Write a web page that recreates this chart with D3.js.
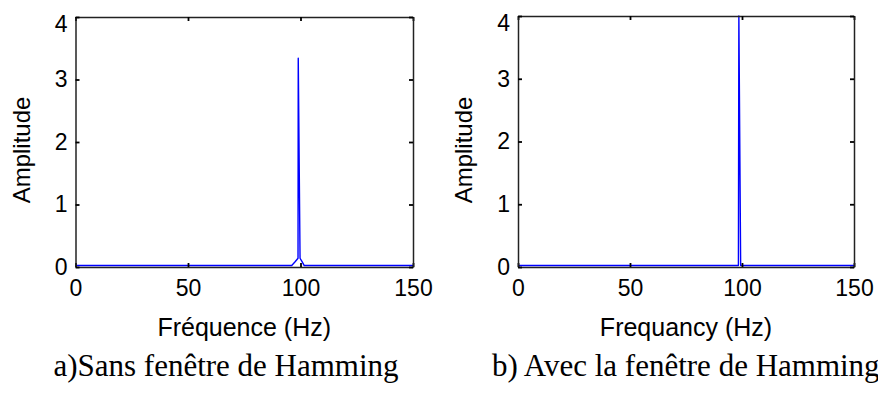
<!DOCTYPE html>
<html>
<head>
<meta charset="utf-8">
<script src="https://cdn.jsdelivr.net/npm/d3@7"></script>
<style>
  body { margin: 0; background: #fff; }
  svg { display: block; }
</style>
</head>
<body>
<svg id="chart" width="878" height="401"></svg>
<script>
// Tick values shared by both spectra
const xTicks = [0, 50, 100, 150];
const yTicks = [0, 1, 2, 3, 4];

// a) spectrum without window: frequency (Hz) and amplitude
const freqA = [0, 50, 96.1, 97.6, 98.9, 99.0, 99.8, 100.7, 101.6, 150];
const ampA  = [0.025, 0.025, 0.025, 0.085, 0.14, 3.34, 0.14, 0.085, 0.025, 0.025];

// b) spectrum with Hamming window
const freqB = [0, 50, 98.4, 98.6, 99.4, 150];
const ampB  = [0.025, 0.025, 0.025, 4.0, 0.025, 0.025];

const xLabels = ["Fréquence (Hz)", "Frequancy (Hz)"];
const yLabel = "Amplitude";
const captions = ["a)Sans fenêtre de Hamming", "b) Avec la fenêtre de Hamming"];

const svg = d3.select("#chart");
svg.append("rect").attr("width", 878).attr("height", 401).attr("fill", "#fff");

const panels = [
  { box: { l: 75.5, r: 413, t: 17, b: 267 }, freq: freqA, amp: ampA, xLabel: xLabels[0], caption: captions[0], capX: 226, capAnchor: "middle", ylabX: 29.5 },
  { box: { l: 518, r: 854, t: 16, b: 267 }, freq: freqB, amp: ampB, xLabel: xLabels[1], caption: captions[1], capX: 492, capAnchor: "start", ylabX: 471.5 }
];

const sans = "Liberation Sans, Arial, sans-serif";
const serif = "Liberation Serif, Times New Roman, serif";

panels.forEach(p => {
  const { l, r, t, b } = p.box;
  const x = d3.scaleLinear().domain([0, 150]).range([l, r]);
  const y = d3.scaleLinear().domain([0, 4]).range([b, t]);
  const g = svg.append("g");

  // spectrum trace
  const pts = p.freq.map((f, i) => [f, p.amp[i]]);
  g.append("path")
    .datum(pts)
    .attr("fill", "none")
    .attr("stroke", "#0000ff")
    .attr("stroke-width", 1.4)
    .attr("stroke-linejoin", "round")
    .attr("d", d3.line().x(d => x(d[0])).y(d => y(d[1])));

  // axes with inward ticks on all four sides
  const styleAxis = sel => {
    sel.select(".domain").attr("stroke", "#222").attr("stroke-width", 1.5);
    sel.selectAll(".tick line").attr("stroke", "#000").attr("stroke-width", 1.8);
    sel.selectAll("text").attr("font-family", sans).attr("font-size", 23).attr("fill", "#000");
  };

  g.append("g").attr("transform", `translate(0,${b})`)
    .call(d3.axisBottom(x).tickValues(xTicks).tickSizeInner(-4).tickSizeOuter(0).tickPadding(13).tickFormat(d3.format("d")))
    .call(styleAxis);
  g.append("g").attr("transform", `translate(0,${t})`)
    .call(d3.axisTop(x).tickValues(xTicks).tickSizeInner(-4).tickSizeOuter(0).tickFormat(""))
    .call(styleAxis);
  const yAxis = g.append("g").attr("transform", `translate(${l},0)`)
    .call(d3.axisLeft(y).tickValues(yTicks).tickSizeInner(-4).tickSizeOuter(0).tickPadding(8).tickFormat(d3.format("d")))
    .call(styleAxis);
  // the top label sits flush with the upper frame edge
  yAxis.selectAll(".tick text").filter(d => d === 4).attr("dy", "0.62em");
  g.append("g").attr("transform", `translate(${r},0)`)
    .call(d3.axisRight(y).tickValues(yTicks).tickSizeInner(-4).tickSizeOuter(0).tickFormat(""))
    .call(styleAxis);

  // axis titles
  g.append("text")
    .attr("x", (l + r) / 2).attr("y", 336)
    .attr("text-anchor", "middle")
    .attr("font-family", sans).attr("font-size", 25)
    .text(p.xLabel);
  g.append("text")
    .attr("transform", `translate(${p.ylabX},150) rotate(-90)`)
    .attr("text-anchor", "middle")
    .attr("font-family", sans).attr("font-size", 24)
    .text(yLabel);

  // caption below the panel
  g.append("text")
    .attr("x", p.capX).attr("y", 376)
    .attr("text-anchor", p.capAnchor)
    .attr("font-family", serif).attr("font-size", 31)
    .text(p.caption);
});
</script>
</body>
</html>
